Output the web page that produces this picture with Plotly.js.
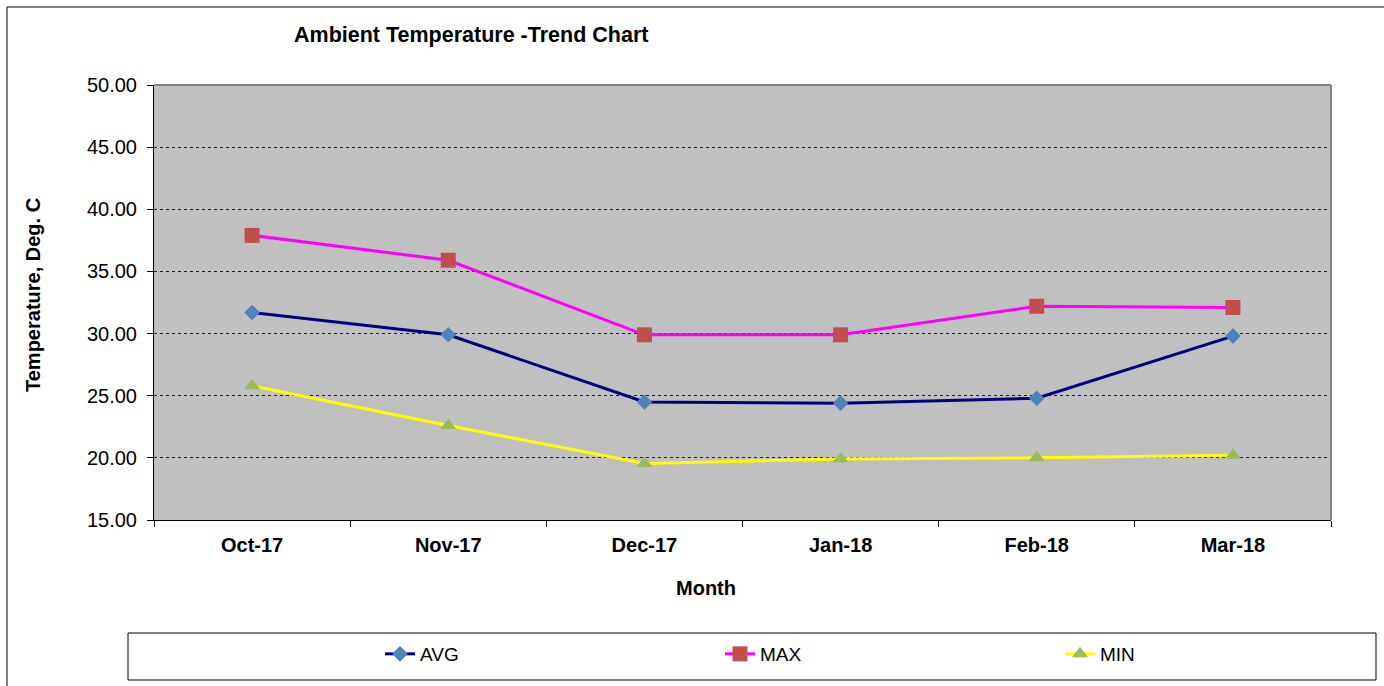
<!DOCTYPE html>
<html>
<head>
<meta charset="utf-8">
<script src="https://cdn.plot.ly/plotly-3.0.1.min.js"></script>
<style>
  html, body { margin: 0; padding: 0; background: #ffffff; }
  #chart { width: 1384px; height: 686px; }
</style>
</head>
<body>
<div id="chart"></div>
<script>
// ---- Data ----
const months = ["Oct-17", "Nov-17", "Dec-17", "Jan-18", "Feb-18", "Mar-18"];
const avgTemp = [31.7, 29.9, 24.5, 24.4, 24.8, 29.8];
const maxTemp = [37.9, 35.9, 29.9, 29.9, 32.2, 32.1];
const minTemp = [25.8, 22.6, 19.55, 19.9, 20.0, 20.2];
const yTicks = [15, 20, 25, 30, 35, 40, 45, 50];

const FONT = "Arial, 'Liberation Sans', Helvetica, sans-serif";

// layout geometry (pixels)
const W = 1384, H = 686;
const L = 154, R = 53, T = 85, B = 166;
const pw = W - L - R, ph = H - T - B;
const px = x => (x - L) / pw;          // container px -> paper x
const py = y => (H - B - y) / ph;      // container px -> paper y

const traces = [
  {
    x: months, y: avgTemp, name: "AVG", type: "scatter", mode: "lines+markers",
    legend: "legend",
    line: { color: "#000080", width: 3 },
    marker: { symbol: "diamond", size: 12, color: "#4F81BD" }
  },
  {
    x: months, y: maxTemp, name: "MAX", type: "scatter", mode: "lines+markers",
    legend: "legend2",
    line: { color: "#FF00FF", width: 3 },
    marker: { symbol: "square", size: 15, color: "#C0504D" }
  },
  {
    x: months, y: minTemp, name: "MIN", type: "scatter", mode: "lines+markers",
    legend: "legend3",
    line: { color: "#FFFF00", width: 3 },
    marker: { symbol: "triangle-up", size: 14, color: "#9BBB59" }
  }
];

function legendAt(xPix) {
  return {
    orientation: "h",
    x: px(xPix), xanchor: "left",
    y: py(654), yanchor: "middle",
    bgcolor: "rgba(0,0,0,0)",
    borderwidth: 0,
    font: { family: FONT, size: 19, color: "#000000" },
    itemwidth: 30
  };
}

const layout = {
  width: W, height: H,
  margin: { l: L, r: R, t: T, b: B, pad: 0 },
  paper_bgcolor: "#ffffff",
  plot_bgcolor: "#C0C0C0",
  font: { family: FONT, size: 20, color: "#000000" },
  showlegend: true,
  title: {
    text: "<b>Ambient Temperature -Trend Chart</b>",
    font: { family: FONT, size: 21.5, color: "#000000" },
    xref: "container", yref: "container",
    x: 294 / W, xanchor: "left",
    y: 1 - 34 / H, yanchor: "middle"
  },
  xaxis: {
    type: "category",
    range: [-0.5, months.length - 0.5],
    tickson: "boundaries",
    ticks: "outside", ticklen: 6, tickcolor: "#000000", tickwidth: 1,
    showline: true, linecolor: "#000000", linewidth: 1,
    showgrid: false, zeroline: false,
    tickfont: { family: FONT, size: 20, color: "#000000", weight: "bold" },
    ticklabelstandoff: 7,
    fixedrange: true
  },
  yaxis: {
    range: [15, 50],
    tickvals: yTicks,
    tickformat: ".2f",
    ticks: "outside", ticklen: 6, tickcolor: "#000000", tickwidth: 1,
    showline: true, linecolor: "#000000", linewidth: 1,
    showgrid: true, gridcolor: "#202020", gridwidth: 1, griddash: "dot",
    zeroline: false,
    tickfont: { family: FONT, size: 20, color: "#000000" },
    ticklabelstandoff: 6,
    fixedrange: true
  },
  legend: legendAt(380),
  legend2: legendAt(720),
  legend3: legendAt(1060),
  annotations: [
    {
      text: "<b>Month</b>", xref: "paper", yref: "paper",
      x: px(706), y: py(588), xanchor: "center", yanchor: "middle",
      showarrow: false, font: { family: FONT, size: 20, color: "#000000" }
    },
    {
      text: "<b>Temperature, Deg. C</b>", xref: "paper", yref: "paper",
      x: px(33), y: py(295), xanchor: "center", yanchor: "middle",
      textangle: -90,
      showarrow: false, font: { family: FONT, size: 20, color: "#000000" }
    }
  ],
  shapes: [
    // plot area top & right gray border
    { type: "line", xref: "paper", yref: "paper", x0: 0, x1: 1, y0: 1, y1: 1,
      line: { color: "#808080", width: 2 }, layer: "above" },
    { type: "line", xref: "paper", yref: "paper", x0: 1, x1: 1, y0: 0, y1: 1,
      line: { color: "#808080", width: 2 }, layer: "above" },
    // outer chart frame (left and top edges visible)
    { type: "line", xref: "paper", yref: "paper", x0: px(7), x1: px(7), y0: py(7), y1: py(700),
      line: { color: "#000000", width: 1 } },
    { type: "line", xref: "paper", yref: "paper", x0: px(7), x1: px(1400), y0: py(7), y1: py(7),
      line: { color: "#000000", width: 1 } },
    // legend box
    { type: "rect", xref: "paper", yref: "paper",
      x0: px(128), x1: px(1376), y0: py(680), y1: py(633),
      line: { color: "#000000", width: 1 }, fillcolor: "rgba(0,0,0,0)" }
  ]
};

Plotly.newPlot("chart", traces, layout, { displayModeBar: false, staticPlot: true });
</script>
</body>
</html>
